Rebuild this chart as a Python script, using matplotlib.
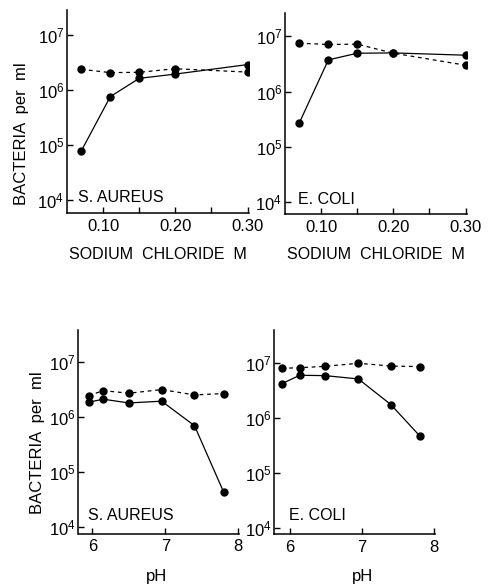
import numpy as np
import matplotlib
matplotlib.use('Agg')
import matplotlib.pyplot as plt
from matplotlib.ticker import FixedLocator, NullLocator, NullFormatter

# sodium chloride panels
nacl_M = [0.07, 0.11, 0.15, 0.20, 0.30]
aureus_nacl_solid = [7.9e4, 7.6e5, 1.63e6, 1.95e6, 2.9e6]
aureus_nacl_dashed = [2.38e6, 2.07e6, 2.1e6, 2.44e6, 2.12e6]
coli_nacl_solid = [2.76e5, 3.74e6, 4.94e6, 5.0e6, 4.55e6]
coli_nacl_dashed = [7.5e6, 7.1e6, 7.2e6, 4.95e6, 3.0e6]

# pH panels
aureus_ph = [5.95, 6.15, 6.5, 6.95, 7.4, 7.8]
aureus_ph_solid = [1.88e6, 2.13e6, 1.82e6, 1.96e6, 7.0e5, 4.3e4]
aureus_ph_dashed = [2.48e6, 3.05e6, 2.74e6, 3.19e6, 2.55e6, 2.7e6]
coli_ph = [5.89, 6.14, 6.49, 6.95, 7.4, 7.8]
coli_ph_solid = [4.25e6, 6.05e6, 5.96e6, 5.19e6, 1.77e6, 4.76e5]
coli_ph_dashed = [8.1e6, 8.3e6, 8.8e6, 1.0e7, 8.9e6, 8.7e6]

nacl_ticks = [0.10, 0.20, 0.30]
nacl_minor = [0.15, 0.25]
nacl_labels = ['0.10', '0.20', '0.30']
ph_ticks = [6, 7, 8]
ph_labels = ['6', '7', '8']
decades = [1e4, 1e5, 1e6, 1e7]
decade_labels = [r'$10^{4}$', r'$10^{5}$', r'$10^{6}$', r'$10^{7}$']

plt.rcParams['font.family'] = ['Liberation Sans', 'DejaVu Sans']
plt.rcParams['mathtext.fontset'] = 'custom'
plt.rcParams['mathtext.rm'] = 'Liberation Sans'
plt.rcParams['mathtext.it'] = 'Liberation Sans'

W, H = 489, 586
fig = plt.figure(figsize=(W / 100, H / 100), dpi=100)


def px_axes(l, t, r, b):
    # pixel box (left, top, right, bottom) -> figure axes
    return fig.add_axes([l / W, 1 - b / H, (r - l) / W, (b - t) / H])


def style(ax, xlim, ylim, ticks, labels, minor=None):
    ax.set_yscale('log')
    ax.set_xlim(*xlim)
    ax.set_ylim(*ylim)
    for s in ['top', 'right']:
        ax.spines[s].set_visible(False)
    for s in ['left', 'bottom']:
        ax.spines[s].set_linewidth(1.1)
    ax.set_yticks(decades)
    ax.set_yticklabels(decade_labels, fontsize=12)
    ax.yaxis.set_minor_locator(NullLocator())
    ax.yaxis.set_minor_formatter(NullFormatter())
    ax.set_xticks(ticks)
    ax.set_xticklabels(labels, fontsize=12)
    if minor:
        ax.xaxis.set_minor_locator(FixedLocator(minor))
    ax.tick_params(axis='both', which='both', direction='in', length=4, width=1, pad=4)
    ax.tick_params(axis='y', pad=2)


def draw(ax, x, solid, dashed):
    ax.plot(x, dashed, color='k', lw=0.9, ls=(0, (3, 3)), marker='o', ms=5)
    ax.plot(x, solid, color='k', lw=0.9, ls='-', marker='o', ms=5)


ax1 = px_axes(67, 10, 249, 213)
draw(ax1, nacl_M, aureus_nacl_solid, aureus_nacl_dashed)
style(ax1, (0.05, 0.302), (10**3.764, 10**7.455), nacl_ticks, nacl_labels, nacl_minor)

ax2 = px_axes(285, 13, 467, 214)
draw(ax2, nacl_M, coli_nacl_solid, coli_nacl_dashed)
style(ax2, (0.05, 0.302), (10**3.79, 10**7.42), nacl_ticks, nacl_labels, nacl_minor)

ax3 = px_axes(78.5, 330, 239, 533.5)
draw(ax3, aureus_ph, aureus_ph_solid, aureus_ph_dashed)
style(ax3, (5.81, 8.01), (10**3.88, 10**7.59), ph_ticks, ph_labels)

ax4 = px_axes(274.5, 330, 435, 534.3)
draw(ax4, coli_ph, coli_ph_solid, coli_ph_dashed)
style(ax4, (5.79, 8.01), (10**3.89, 10**7.605), ph_ticks, ph_labels)


def ftext(x, y, s, **kw):
    fig.text(x / W, 1 - y / H, s, ha='center', va='center', **kw)


# species labels inside the panels (pixel positions of reference)
ftext(121, 197, 'S. AUREUS', fontsize=11.5)
ftext(326, 199, 'E. COLI', fontsize=11.5)
ftext(131, 515, 'S. AUREUS', fontsize=11.5)
ftext(317, 515, 'E. COLI', fontsize=11.5)

# axis titles
ftext(158, 255, 'SODIUM  CHLORIDE  M', fontsize=11.5)
ftext(376, 255, 'SODIUM  CHLORIDE  M', fontsize=11.5)
ftext(157, 577, 'pH', fontsize=12)
ftext(363, 577, 'pH', fontsize=12)
ftext(22, 134, 'BACTERIA  per  ml', fontsize=12, rotation=90)
ftext(38, 443, 'BACTERIA  per  ml', fontsize=12, rotation=90)

fig.savefig('out.png', dpi=100)
